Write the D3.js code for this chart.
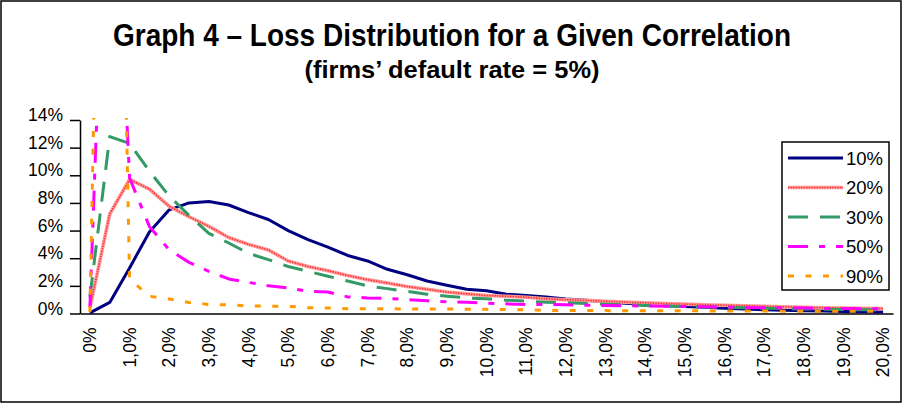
<!DOCTYPE html>
<html>
<head>
<meta charset="utf-8">
<script src="https://cdn.jsdelivr.net/npm/d3@7"></script>
<style>
  html, body { margin: 0; padding: 0; background: #fff; }
  svg { display: block; }
  text { font-family: "Liberation Sans", Arial, sans-serif; }
</style>
</head>
<body>
<svg id="chart" width="902" height="403"></svg>
<script>
// ---- data ----
const categories = ["0%","0,5%","1,0%","1,5%","2,0%","2,5%","3,0%","3,5%","4,0%","4,5%",
  "5,0%","5,5%","6,0%","6,5%","7,0%","7,5%","8,0%","8,5%","9,0%","9,5%",
  "10,0%","10,5%","11,0%","11,5%","12,0%","12,5%","13,0%","13,5%","14,0%","14,5%",
  "15,0%","15,5%","16,0%","16,5%","17,0%","17,5%","18,0%","18,5%","19,0%","19,5%","20,0%"];
const shownLabels = ["0%","1,0%","2,0%","3,0%","4,0%","5,0%","6,0%","7,0%","8,0%","9,0%","10,0%",
  "11,0%","12,0%","13,0%","14,0%","15,0%","16,0%","17,0%","18,0%","19,0%","20,0%"];
const yTicks = [0, 2, 4, 6, 8, 10, 12, 14];
const seriesNames = ["10%", "20%", "30%", "50%", "90%"];

const corr10 = [0.05,0.8,3.3,5.9,7.5,8.0,8.1,7.85,7.3,6.8,6.0,5.35,4.8,4.2,3.8,3.2,2.8,2.35,2.05,1.75,
  1.65,1.4,1.3,1.2,1.05,0.95,0.85,0.75,0.65,0.58,0.5,0.45,0.38,0.33,0.28,0.24,0.2,0.18,0.15,0.13,0.11];
const corr20 = [0.4,7.2,9.7,9.0,7.75,7.0,6.3,5.5,5.0,4.6,3.8,3.4,3.1,2.75,2.45,2.2,1.95,1.75,1.55,1.42,
  1.3,1.25,1.18,1.06,1.0,0.95,0.88,0.82,0.77,0.72,0.68,0.63,0.6,0.56,0.52,0.48,0.45,0.42,0.4,0.37,0.35];
const corr30 = [1.2,12.8,12.3,10.3,8.5,7.1,5.8,5.1,4.35,3.9,3.4,3.05,2.7,2.35,2.0,1.8,1.6,1.4,1.25,1.13,
  1.06,0.96,0.89,0.82,0.78,0.72,0.67,0.62,0.58,0.54,0.5,0.47,0.44,0.41,0.38,0.35,0.33,0.31,0.29,0.27,0.25];
const corr50 = [0.5,40,9.8,6.3,4.6,3.7,3.05,2.5,2.25,2.0,1.85,1.6,1.55,1.2,1.13,1.1,1.0,0.92,0.85,0.82,
  0.74,0.7,0.65,0.65,0.63,0.6,0.58,0.56,0.54,0.52,0.5,0.48,0.46,0.44,0.42,0.4,0.39,0.37,0.36,0.35,0.34];
const corr90 = [0.1,75,2.5,1.25,1.05,0.8,0.65,0.62,0.55,0.53,0.52,0.42,0.4,0.35,0.35,0.34,0.33,0.32,0.32,0.31,
  0.3,0.28,0.27,0.22,0.22,0.21,0.21,0.2,0.2,0.2,0.19,0.19,0.18,0.18,0.18,0.17,0.17,0.16,0.16,0.16,0.15];

const seriesValues = [corr10, corr20, corr30, corr50, corr90];

// ---- styles ----
const styles = [
  { color: "#000080", width: 3, dash: null },
  { color: "#ff9a9a", width: 3.6, dash: null, overlay: { color: "#ff2a2a", width: 1.6, dash: "1.3,1.3" } },
  { color: "#339966", width: 3, dash: "20,12" },
  { color: "#ff00ff", width: 3, dash: "20,11,6,11" },
  { color: "#ff9900", width: 3, dash: "6,11.5" }
];

const svg = d3.select("#chart");

// outer border
svg.append("rect").attr("x", 1).attr("y", 1).attr("width", 900).attr("height", 401)
  .attr("fill", "#fff").attr("stroke", "#000").attr("stroke-width", 1.5);

// titles
svg.append("text").attr("x", 452).attr("y", 46).attr("text-anchor", "middle")
  .attr("font-size", 31).attr("font-weight", "bold")
  .attr("textLength", 678).attr("lengthAdjust", "spacingAndGlyphs")
  .text("Graph 4 – Loss Distribution for a Given Correlation");
svg.append("text").attr("x", 452).attr("y", 78).attr("text-anchor", "middle")
  .attr("font-size", 24).attr("font-weight", "bold")
  .attr("textLength", 295).attr("lengthAdjust", "spacingAndGlyphs")
  .text("(firms’ default rate = 5%)");

// scales
const pLeft = 80, pRight = 893, pTop = 120, pBottom = 313.5;
const x = d3.scaleBand().domain(categories).range([pLeft, pRight]).padding(0);
const y = d3.scaleLinear().domain([0, 14]).range([pBottom, pTop]);
const cx = c => x(c) + x.bandwidth() / 2;

// clip
svg.append("defs").append("clipPath").attr("id", "plotclip")
  .append("rect").attr("x", pLeft).attr("y", pTop - 2).attr("width", pRight - pLeft + 2).attr("height", pBottom - pTop + 4);

// y axis
const yAxis = svg.append("g").attr("transform", `translate(${pLeft},0)`)
  .call(d3.axisLeft(y).tickValues(yTicks).tickFormat(d => d + "%").tickSize(10).tickSizeOuter(0));
yAxis.select(".domain").attr("stroke", "#000").attr("stroke-width", 1.5);
yAxis.selectAll(".tick line").attr("stroke", "#000").attr("stroke-width", 1.5);
yAxis.selectAll(".tick text").attr("font-size", 17.5).attr("fill", "#000")
  .attr("font-family", "'Liberation Sans', Arial, sans-serif")
  .attr("x", -17).attr("dy", "0").attr("y", 0.5);

// x axis
const xAxis = svg.append("g").attr("transform", `translate(0,${pBottom})`)
  .call(d3.axisBottom(x).tickValues(shownLabels).tickSize(0).tickSizeOuter(0));
xAxis.select(".domain").attr("stroke", "#000").attr("stroke-width", 1.5);
xAxis.selectAll(".tick text")
  .attr("font-size", 17.5).attr("fill", "#000")
  .attr("font-family", "'Liberation Sans', Arial, sans-serif")
  .attr("transform", "rotate(-90)")
  .attr("text-anchor", "end")
  .attr("x", -14).attr("y", 0).attr("dy", "0.35em");

// lines
const lineGen = d3.line().x((d, i) => cx(categories[i])).y(d => y(d));
const plot = svg.append("g").attr("clip-path", "url(#plotclip)");
seriesValues.forEach((vals, k) => {
  const s = styles[k];
  plot.append("path").datum(vals).attr("d", lineGen)
    .attr("fill", "none").attr("stroke", s.color).attr("stroke-width", s.width)
    .attr("stroke-linejoin", "round")
    .attr("stroke-dasharray", s.dash);
  if (s.overlay) {
    plot.append("path").datum(vals).attr("d", lineGen)
      .attr("fill", "none").attr("stroke", s.overlay.color).attr("stroke-width", s.overlay.width)
      .attr("stroke-dasharray", s.overlay.dash);
  }
});

// legend
const lg = svg.append("g");
lg.append("rect").attr("x", 782).attr("y", 142).attr("width", 107).attr("height", 148)
  .attr("fill", "#fff").attr("stroke", "#000").attr("stroke-width", 1.5);
const legendY = d3.scalePoint().domain(seriesNames).range([158, 276]);
seriesNames.forEach((name, k) => {
  const s = styles[k];
  const yy = legendY(name);
  lg.append("line").attr("x1", 788).attr("x2", 843).attr("y1", yy).attr("y2", yy)
    .attr("stroke", s.color).attr("stroke-width", s.width).attr("stroke-dasharray", s.dash);
  if (s.overlay) {
    lg.append("line").attr("x1", 788).attr("x2", 843).attr("y1", yy).attr("y2", yy)
      .attr("stroke", s.overlay.color).attr("stroke-width", s.overlay.width).attr("stroke-dasharray", s.overlay.dash);
  }
  lg.append("text").attr("x", 846).attr("y", yy + 6.5).attr("font-size", 18.5).attr("fill", "#000").text(name);
});
</script>
</body>
</html>
